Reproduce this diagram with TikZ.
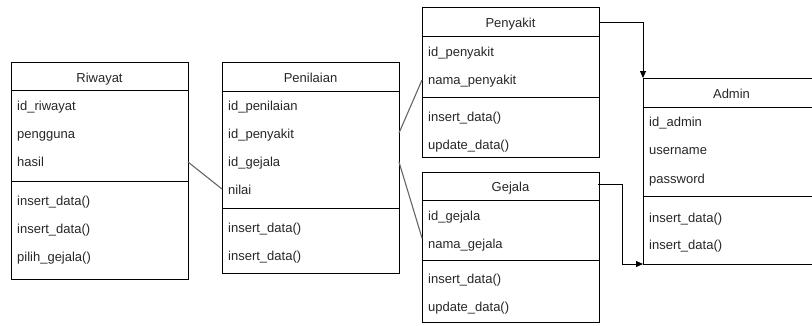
\documentclass[tikz,border=0pt]{standalone}
\usepackage{fontspec}
\setmainfont{Liberation Sans}
\usetikzlibrary{arrows.meta}
\begin{document}
\begin{tikzpicture}[x=1pt,y=-1pt,
  box/.style={draw=black, line width=0.9pt, minimum width=177pt, anchor=north west, inner sep=0pt, outer sep=0pt},
  sep/.style={draw=black, line width=0.9pt},
  title/.style={font=\fontsize{13}{15}\selectfont, anchor=base, inner sep=0pt, text=black!85, yshift=-1.5pt},
  attr/.style={font=\fontsize{13}{15}\selectfont, anchor=base west, inner sep=0pt, text=black!85, yshift=-1.5pt},
  rel/.style={draw=black!60, line width=1.1pt},
  arr/.style={draw=black, line width=0.9pt, -{Triangle[length=7pt,width=6pt]}}]
\useasboundingbox (0,0) rectangle (812,325);
\clip (0,0) rectangle (812,325);

% ---------- Riwayat ----------
\node[box, minimum height=217pt] (riw) at (11,62) {};
\draw[sep] (11,90) -- (188,90);
\draw[sep] (11,181) -- (188,181);
\node[title] (riwT) at (99.5,80.5) {Riwayat};
\node[attr] (riwA1) at (17,108.5) {id\_riwayat};
\node[attr] (riwA2) at (17,136.5) {pengguna};
\node[attr] (riwA3) at (17,164.5) {hasil};
\node[attr] (riwM1) at (17,203.5) {insert\_data()};
\node[attr] (riwM2) at (17,231.5) {insert\_data()};
\node[attr] (riwM3) at (17,259.5) {pilih\_gejala()};

% ---------- Penilaian ----------
\node[box, minimum height=211pt] (pen) at (222,62) {};
\draw[sep] (222,91) -- (399,91);
\draw[sep] (222,208) -- (399,208);
\node[title] (penT) at (310.5,81) {Penilaian};
\node[attr] (penA1) at (228,108.5) {id\_penilaian};
\node[attr] (penA2) at (228,136.5) {id\_penyakit};
\node[attr] (penA3) at (228,164.5) {id\_gejala};
\node[attr] (penA4) at (228,192.5) {nilai};
\node[attr] (penM1) at (228,230.5) {insert\_data()};
\node[attr] (penM2) at (228,258.5) {insert\_data()};

% ---------- Penyakit ----------
\node[box, minimum height=150pt] (pyk) at (422,7) {};
\draw[sep] (422,36) -- (599,36);
\draw[sep] (422,97) -- (599,97);
\node[title] (pykT) at (510.5,26) {Penyakit};
\node[attr] (pykA1) at (428,55) {id\_penyakit};
\node[attr] (pykA2) at (428,83) {nama\_penyakit};
\node[attr] (pykM1) at (428,119.5) {insert\_data()};
\node[attr] (pykM2) at (428,148) {update\_data()};

% ---------- Gejala ----------
\node[box, minimum height=150pt] (gej) at (422,172) {};
\draw[sep] (422,200) -- (599,200);
\draw[sep] (422,260) -- (599,260);
\node[title] (gejT) at (510.5,190) {Gejala};
\node[attr] (gejA1) at (428,218.5) {id\_gejala};
\node[attr] (gejA2) at (428,246.5) {nama\_gejala};
\node[attr] (gejM1) at (428,281.5) {insert\_data()};
\node[attr] (gejM2) at (428,310) {update\_data()};

% ---------- Admin ----------
\node[box, minimum height=186pt] (adm) at (643,78) {};
\draw[sep] (643,107) -- (820,107);
\draw[sep] (643,196) -- (820,196);
\node[title] (admT) at (731.5,97) {Admin};
\node[attr] (admA1) at (649,124.5) {id\_admin};
\node[attr] (admA2) at (649,153) {username};
\node[attr] (admA3) at (649,181.5) {password};
\node[attr] (admM1) at (649,220.5) {insert\_data()};
\node[attr] (admM2) at (649,247.5) {insert\_data()};

% ---------- connectors ----------
\coordinate (riwOut) at (riw.east |- 0,162);
\coordinate (penIn)  at (pen.west |- 0,189);
\draw[rel] (riwOut) -- (penIn);

\coordinate (penOut1) at (pen.east |- 0,133);
\coordinate (pykIn)   at (pyk.west |- 0,80);
\draw[rel] (penOut1) -- (pykIn);

\coordinate (penOut2) at (pen.east |- 0,162);
\coordinate (gejIn)   at (gej.west |- 0,238);
\draw[rel] (penOut2) -- (gejIn);

\coordinate (pykOut) at (pyk.east |- 0,22);
\draw[arr] (pykOut) -| (adm.north west);

\coordinate (gejOut) at (598,184);
\coordinate (bend)   at (622,184);
\draw[arr] (gejOut) -- (bend) |- (adm.south west);
\end{tikzpicture}
\end{document}
